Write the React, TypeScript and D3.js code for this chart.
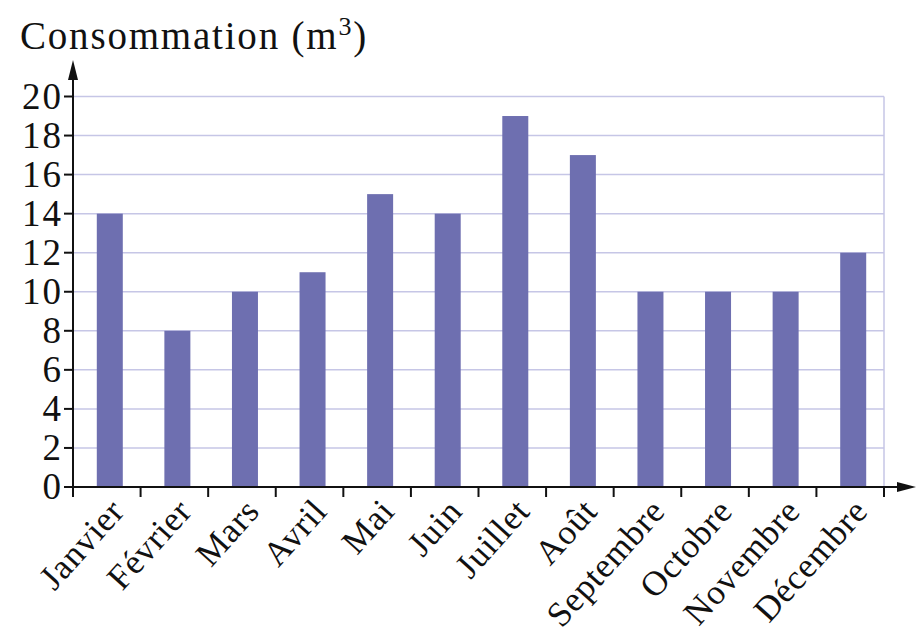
import * as d3 from "d3";

const months = [
  "Janvier", "Février", "Mars", "Avril", "Mai", "Juin",
  "Juillet", "Août", "Septembre", "Octobre", "Novembre", "Décembre",
];
const consumption = [14, 8, 10, 11, 15, 14, 19, 17, 10, 10, 10, 12];
const yTicks = [0, 2, 4, 6, 8, 10, 12, 14, 16, 18, 20];

const W = 920;
const H = 644;
const left = 73;
const right = 884;
const bottom = 487;
const top = 96.5;
const font = "Liberation Serif, DejaVu Serif, Times New Roman, serif";

export default function App() {
  const x = d3.scaleBand<string>().domain(months).range([left, right]).paddingInner(0).paddingOuter(0);
  const y = d3.scaleLinear().domain([0, 20]).range([bottom, top]);
  const barW = 26;
  const shift = 3;

  return (
    <svg width={W} height={H} style={{ position: "absolute", left: 0, top: 0, fontFamily: font }}>
      <rect width={W} height={H} fill="#fff" />
      <text x={20} y={49} fontSize={39} fill="#111" letterSpacing={1.8} style={{ fontFamily: font }}>
        Consommation (m<tspan dy={-14} fontSize={26}>3</tspan>
        <tspan dy={14}>)</tspan>
      </text>
      {/* grid */}
      {yTicks.filter((t) => t > 0).map((t) => (
        <line key={t} x1={left} x2={right} y1={y(t)} y2={y(t)} stroke="#c6c6e6" strokeWidth={1.5} />
      ))}
      <line x1={right} x2={right} y1={y(20)} y2={bottom} stroke="#c6c6e6" strokeWidth={1.5} />
      {/* bars */}
      {months.map((m, i) => {
        const cx = (x(m) ?? 0) + x.bandwidth() / 2 + shift;
        return (
          <rect key={m} x={cx - barW / 2} y={y(consumption[i])} width={barW}
            height={bottom - y(consumption[i])} fill="#6e6fb0" />
        );
      })}
      {/* y axis */}
      <line x1={left} x2={left} y1={bottom + 8} y2={76} stroke="#111" strokeWidth={2} />
      <path d={`M${left},60 L${left - 5},80 L${left + 5},80 Z`} fill="#111" />
      {yTicks.map((t) => (
        <g key={t}>
          <line x1={left - 9} x2={left} y1={y(t)} y2={y(t)} stroke="#111" strokeWidth={2} />
          <text x={left - 10} y={y(t)} dy="0.33em" textAnchor="end" fontSize={37} letterSpacing={2}
            fill="#111" style={{ fontFamily: font }}>
            {t}
          </text>
        </g>
      ))}
      {/* x axis */}
      <line x1={left} x2={900} y1={bottom} y2={bottom} stroke="#111" strokeWidth={2} />
      <path d={`M916,${bottom} L897,${bottom - 5} L897,${bottom + 5} Z`} fill="#111" />
      {[...months.map((m) => x(m) ?? 0), right].map((px, i) => (
        <line key={i} x1={px} x2={px} y1={bottom} y2={bottom + 10} stroke="#111" strokeWidth={2} />
      ))}
      {months.map((m) => {
        const cx = (x(m) ?? 0) + x.bandwidth() / 2 + 1;
        return (
          <text key={m} transform={`translate(${cx},${bottom + 9}) rotate(-48)`} textAnchor="end"
            dy="0.7em" fontSize={35} letterSpacing={0.8} fill="#111" style={{ fontFamily: font }}>
            {m}
          </text>
        );
      })}
    </svg>
  );
}
